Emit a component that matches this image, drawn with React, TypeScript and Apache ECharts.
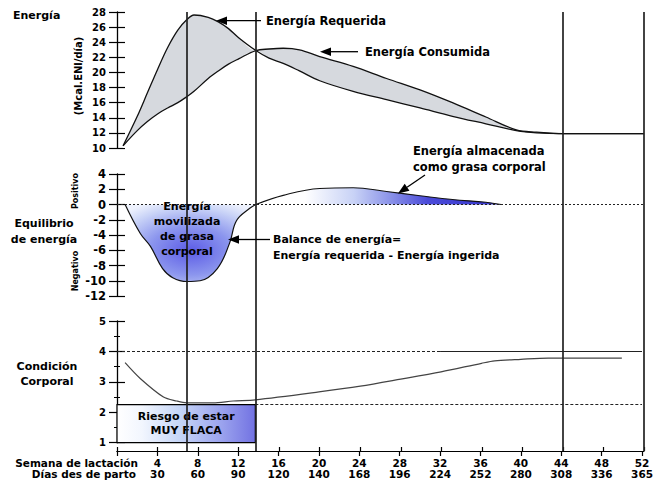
import React, { useEffect, useRef } from "react";
import * as echarts from "echarts";

// ---------- DATA ----------
const energyWeeks = [0.6, 2, 3, 4, 5, 6, 6.9, 7.6, 9, 10, 11, 12, 13.7, 15, 16.4, 18, 20, 23.3, 26.6, 29.9, 33.1, 36.4, 39.4, 41.4, 44, 48, 52];
const energyRequired = [10.3, 14.2, 17.3, 20.4, 23.3, 25.6, 27.0, 27.6, 27.3, 26.7, 25.8, 24.6, 22.9, 21.9, 21.2, 20.2, 18.9, 17.5, 16.4, 15.3, 14.2, 13.2, 12.3, 12.0, 11.9, 11.9, 11.9];
const energyConsumed = [10.3, 12.3, 13.5, 14.5, 15.3, 16.0, 16.8, 17.5, 19.2, 20.2, 21.1, 21.8, 22.9, 23.1, 23.2, 23.0, 22.1, 20.8, 19.2, 17.7, 16.0, 14.1, 12.4, 12.1, 11.9, 11.9, 11.9];

const balanceNegWeeks = [0.8, 2.3, 3.3, 4.5, 5.5, 6.9, 8.2, 9.9, 11.1, 11.8, 13.1, 13.7];
const balanceNegValues = [0, -3.8, -5.5, -8.4, -9.6, -10.1, -10.0, -8.4, -5.1, -2.1, -0.5, 0];
const balancePosWeeks = [13.7, 16.4, 20, 23.3, 26.6, 29.9, 33.1, 36.4, 37.9];
const balancePosValues = [0, 1.2, 2.1, 2.2, 1.7, 1.15, 0.65, 0.3, 0];

const conditionWeeks = [0.8, 2.3, 4.6, 5.9, 6.9, 9.5, 11.5, 13.7, 20, 24.1, 28.1, 32.1, 36.1, 37.4, 40, 42.7, 44, 50];
const conditionValues = [3.63, 3.11, 2.5, 2.37, 2.31, 2.31, 2.37, 2.41, 2.67, 2.86, 3.09, 3.33, 3.61, 3.69, 3.74, 3.78, 3.78, 3.78];

const weekTicks = [4, 8, 12, 16, 20, 24, 28, 32, 36, 40, 44, 48, 52];
const dayTicks = [30, 60, 90, 120, 140, 168, 196, 224, 252, 280, 308, 336, 365];

const markerWeeks = [6.9, 13.7, 44, 52];
const bodyUpper = 4;
const bodyLower = 2.25;
const riskEndWeek = 13.7;
const upperDashEnd = 32;
const weekMax = 52;

// ---------- HELPERS ----------
const FONT = '"DejaVu Sans", sans-serif';
const pairs = (xs: number[], ys: number[]) => xs.map((x, i) => [x, ys[i]]);

function txt(text: string, x: number, y: number, size: number, align = "left", extra: any = {}) {
  return {
    type: "text",
    x,
    y,
    z: 100,
    ...extra,
    style: {
      text,
      fill: "#000",
      font: `bold ${size}px ${FONT}`,
      align,
      textAlign: align,
      verticalAlign: "middle",
      textVerticalAlign: "middle",
      lineHeight: extra.lineHeight || size + 4,
    },
  };
}

function arrow(x1: number, y1: number, x2: number, y2: number) {
  const dx = x2 - x1;
  const dy = y2 - y1;
  const len = Math.sqrt(dx * dx + dy * dy);
  const ux = dx / len;
  const uy = dy / len;
  const hl = 11;
  const hw = 4.2;
  const bx = x2 - ux * hl;
  const by = y2 - uy * hl;
  return [
    { type: "line", z: 100, shape: { x1, y1, x2: bx, y2: by }, style: { stroke: "#000", lineWidth: 1.3 } },
    {
      type: "polygon",
      z: 100,
      shape: { points: [[x2, y2], [bx - uy * hw, by + ux * hw], [bx + uy * hw, by - ux * hw]] },
      style: { fill: "#000" },
    },
  ];
}

export default function App() {
  const ref = useRef<HTMLDivElement>(null);

  useEffect(() => {
    if (!ref.current) return;
    const chart = echarts.init(ref.current, null, { renderer: "svg" });

    const minE = energyRequired.map((r, i) => Math.min(r, energyConsumed[i]));
    const maxE = energyRequired.map((r, i) => Math.max(r, energyConsumed[i]));

    const gridLeft = 117;
    const gridRight = 12;

    const yAxisCommon = (gridIndex: number, min: number, max: number, interval: number, fontSize: number) => [
      {
        type: "value",
        gridIndex,
        position: "left",
        min,
        max,
        interval,
        axisLine: { show: true, lineStyle: { color: "#000", width: 1.3 } },
        axisTick: { show: true, length: 8, lineStyle: { color: "#000", width: 1.2 } },
        axisLabel: { color: "#000", fontFamily: FONT, fontWeight: "bold", fontSize, margin: 11 },
        splitLine: { show: false },
      },
      {
        type: "value",
        gridIndex,
        position: "left",
        min,
        max,
        interval,
        axisLine: { show: false },
        axisTick: { show: true, inside: true, length: 8, lineStyle: { color: "#000", width: 1.2 } },
        axisLabel: { show: false },
        splitLine: { show: false },
      },
    ];

    const hiddenX = (gridIndex: number) => ({
      type: "value",
      gridIndex,
      min: 0,
      max: weekMax,
      show: false,
    });

    const yAxes: any[] = [
      ...yAxisCommon(0, 10, 28, 2, 10),
      ...yAxisCommon(1, -12, 4, 2, 11.5),
      ...yAxisCommon(2, 1, 5, 1, 10),
      { type: "value", gridIndex: 3, min: 0, max: 1, show: false },
    ];
    yAxes[4].minorTick = { show: true, splitNumber: 2, length: 3, lineStyle: { color: "#000", width: 1 } };
    yAxes[5].minorTick = { show: true, splitNumber: 2, length: 3, lineStyle: { color: "#000", width: 1 } };

    const option: any = {
      animation: false,
      backgroundColor: "#fff",
      textStyle: { fontFamily: FONT },
      grid: [
        { left: gridLeft, right: gridRight, top: 12, height: 136 },
        { left: gridLeft, right: gridRight, top: 174, height: 122 },
        { left: gridLeft, right: gridRight, top: 321, height: 121.7 },
        { left: gridLeft, right: gridRight, top: 12, bottom: 30 },
      ],
      xAxis: [
        hiddenX(0),
        hiddenX(1),
        {
          type: "value",
          gridIndex: 2,
          min: 0,
          max: weekMax,
          interval: 4,
          position: "bottom",
          offset: 8.3,
          axisLine: { show: true, lineStyle: { color: "#000", width: 1.2 } },
          axisTick: { show: true, length: 5, lineStyle: { color: "#000", width: 1.2 } },
          axisLabel: {
            color: "#000",
            fontFamily: FONT,
            fontWeight: "bold",
            fontSize: 10.5,
            lineHeight: 11,
            margin: 6,
            formatter: (v: number) => {
              const i = weekTicks.indexOf(v);
              return i < 0 ? "" : `${weekTicks[i]}\n${dayTicks[i]}`;
            },
          },
          splitLine: { show: false },
        },
        {
          type: "value",
          gridIndex: 3,
          min: 0,
          max: weekMax,
          interval: 4,
          axisLine: { show: true, lineStyle: { color: "#000", width: 1.2 } },
          axisTick: { show: true, inside: true, length: 4, lineStyle: { color: "#000", width: 1.2 } },
          axisLabel: { show: false },
          splitLine: { show: false },
        },
      ],
      yAxis: yAxes,
      series: [
        // ---- top panel: grey band between the two curves (upper envelope filled, lower envelope masked) ----
        {
          type: "line",
          xAxisIndex: 0,
          yAxisIndex: 0,
          smooth: 0.35,
          symbol: "none",
          lineStyle: { opacity: 0 },
          areaStyle: { color: "#d6d9de", opacity: 1, origin: "start" },
          data: pairs(energyWeeks, maxE),
          z: 1,
        },
        {
          type: "line",
          xAxisIndex: 0,
          yAxisIndex: 0,
          smooth: 0.35,
          symbol: "none",
          lineStyle: { opacity: 0 },
          areaStyle: { color: "#ffffff", opacity: 1, origin: "start" },
          data: pairs(energyWeeks, minE),
          z: 2,
        },
        {
          name: "Energía Requerida",
          type: "line",
          xAxisIndex: 0,
          yAxisIndex: 0,
          smooth: 0.35,
          symbol: "none",
          lineStyle: { color: "#111", width: 1.3 },
          data: pairs(energyWeeks, energyRequired),
          z: 3,
        },
        {
          name: "Energía Consumida",
          type: "line",
          xAxisIndex: 0,
          yAxisIndex: 0,
          smooth: 0.35,
          symbol: "none",
          lineStyle: { color: "#111", width: 1.3 },
          data: pairs(energyWeeks, energyConsumed),
          z: 3,
        },
        // ---- middle panel: energy balance ----
        {
          type: "line",
          xAxisIndex: 1,
          yAxisIndex: 2,
          smooth: 0.4,
          symbol: "none",
          lineStyle: { color: "#111", width: 1.2 },
          areaStyle: {
            opacity: 1,
            color: new echarts.graphic.RadialGradient(0.5, 0.6, 0.7, [
              { offset: 0, color: "#5c5ce6" },
              { offset: 0.45, color: "#8c96ee" },
              { offset: 0.8, color: "#c9d3f7" },
              { offset: 1, color: "#eef2fd" },
            ]),
          },
          data: pairs(balanceNegWeeks, balanceNegValues),
          markLine: {
            silent: true,
            symbol: "none",
            label: { show: false },
            lineStyle: { color: "#222", width: 1, type: [2, 2] },
            data: [{ yAxis: 0 }],
          },
          z: 2,
        },
        {
          type: "line",
          xAxisIndex: 1,
          yAxisIndex: 2,
          smooth: 0.4,
          symbol: "none",
          lineStyle: { color: "#111", width: 1.1 },
          areaStyle: {
            opacity: 1,
            color: new echarts.graphic.LinearGradient(0, 0, 1, 0, [
              { offset: 0, color: "#ffffff" },
              { offset: 0.2, color: "#ffffff" },
              { offset: 0.4, color: "#c8d2f6" },
              { offset: 0.55, color: "#8a92e8" },
              { offset: 0.7, color: "#4a4ad8" },
              { offset: 1, color: "#3434cc" },
            ]),
          },
          data: pairs(balancePosWeeks, balancePosValues),
          z: 2,
        },
        // ---- bottom panel: body condition ----
        {
          type: "line",
          xAxisIndex: 2,
          yAxisIndex: 4,
          smooth: 0.3,
          symbol: "none",
          lineStyle: { color: "#444", width: 1.2 },
          data: pairs(conditionWeeks, conditionValues),
          markArea: {
            silent: true,
            itemStyle: {
              color: new echarts.graphic.LinearGradient(0, 0, 1, 0, [
                { offset: 0, color: "#ffffff" },
                { offset: 0.18, color: "#f2f6fe" },
                { offset: 0.45, color: "#c6d6f7" },
                { offset: 0.75, color: "#9ca4ee" },
                { offset: 1, color: "#7272e2" },
              ]),
              borderColor: "#000",
              borderWidth: 1.2,
            },
            label: {
              show: true,
              position: "inside",
              formatter: "Riesgo de estar\nMUY FLACA",
              color: "#000",
              fontFamily: FONT,
              fontWeight: "bold",
              fontSize: 11,
              lineHeight: 14,
            },
            data: [[{ coord: [0, 1] }, { coord: [riskEndWeek, bodyLower] }]],
          },
          markLine: {
            silent: true,
            symbol: "none",
            label: { show: false },
            lineStyle: { color: "#222", width: 1, type: "solid" },
            data: [
              [{ coord: [0, bodyUpper], lineStyle: { type: [3, 2] } }, { coord: [upperDashEnd, bodyUpper] }],
              [{ coord: [upperDashEnd, bodyUpper], lineStyle: { type: "solid" } }, { coord: [weekMax, bodyUpper] }],
              [{ coord: [riskEndWeek, bodyLower], lineStyle: { type: [3, 2] } }, { coord: [weekMax, bodyLower] }],
            ],
          },
          z: 3,
        },
        // ---- overlay: vertical marker lines ----
        {
          type: "scatter",
          xAxisIndex: 3,
          yAxisIndex: 6,
          symbolSize: 0,
          data: [[0, 0]],
          markLine: {
            silent: true,
            symbol: "none",
            label: { show: false },
            lineStyle: { color: "#222", width: 1.7, type: "solid" },
            data: markerWeeks.map((w) => ({ xAxis: w })),
          },
          z: 6,
        },
      ],
      graphic: [
        txt("Energía", 13, 15, 11),
        txt("(Mcal.ENl/día)", 78, 76, 10, "center", { rotation: Math.PI / 2 }),
        txt("Energía Requerida", 266, 20.7, 11.5),
        ...arrow(261, 20.7, 216, 20.7),
        txt("Energía Consumida", 365, 51.7, 11.5),
        ...arrow(358, 51.7, 320, 51.7),
        txt("Energía almacenada\ncomo grasa corporal", 413, 158.7, 11.5, "left", { lineHeight: 16 }),
        ...arrow(425, 175, 398, 193.5),
        txt("Equilibrio\nde energía", 44, 231, 11, "center", { lineHeight: 16 }),
        txt("Positivo", 75, 191, 8, "center", { rotation: Math.PI / 2 }),
        txt("Negativo", 75, 271, 8, "center", { rotation: Math.PI / 2 }),
        txt("Energía\nmovilizada\nde grasa\ncorporal", 187, 229, 11, "center", { lineHeight: 15 }),
        txt("Balance de energía=\nEnergía requerida - Energía ingerida", 273, 247, 11, "left", { lineHeight: 16 }),
        ...arrow(270, 239.5, 228, 239.5),
        txt("Condición\nCorporal", 47, 374, 11, "center", { lineHeight: 15 }),
        txt("Semana de lactación", 138, 463, 10.5, "right"),
        txt("Días des de parto", 136, 474, 10.5, "right"),
      ],
    };

    chart.setOption(option);
    return () => chart.dispose();
  }, []);

  return (
    <div
      ref={ref}
      style={{ position: "absolute", left: 0, top: 0, width: 656, height: 481, background: "#fff" }}
    />
  );
}
